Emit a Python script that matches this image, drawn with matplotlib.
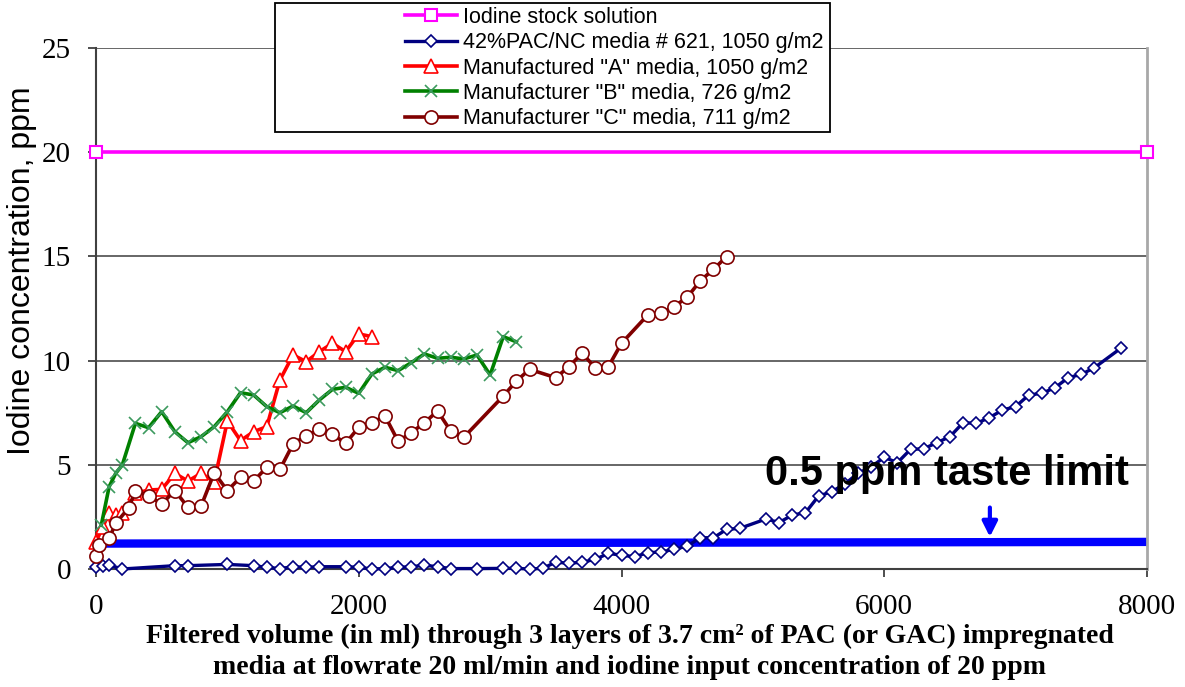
import matplotlib
matplotlib.use('Agg')
import matplotlib.pyplot as plt
from matplotlib.patches import Rectangle

# ---- data ---------------------------------------------------------------
stock_x = [0, 8000]
stock_y = [20, 20]

pac_x = [0, 50, 100, 200, 600, 700, 1000, 1200, 1300, 1400, 1500, 1600, 1700,
         1900, 2000, 2100, 2200, 2300, 2400, 2500, 2600, 2700, 2900,
         3100, 3200, 3300, 3400, 3500, 3600, 3700, 3800, 3900, 4000, 4100,
         4200, 4300, 4400, 4500, 4600, 4700, 4800, 4900,
         5100, 5200, 5300, 5400, 5500, 5600, 5700, 5800, 5900, 6000, 6100,
         6200, 6300, 6400, 6500, 6600, 6700, 6800, 6900, 7000, 7100, 7200,
         7300, 7400, 7500, 7600, 7800]
pac_y = [0.11, 0.14, 0.19, 0.0, 0.16, 0.16, 0.22, 0.16, 0.08, 0.02, 0.11, 0.08, 0.11,
         0.11, 0.08, 0.0, 0.02, 0.08, 0.11, 0.18, 0.11, 0.02, 0.02,
         0.03, 0.03, 0.0, 0.03, 0.33, 0.27, 0.33, 0.46, 0.75, 0.66, 0.59,
         0.78, 0.82, 0.94, 1.1, 1.5, 1.5, 1.9, 1.95,
         2.4, 2.23, 2.59, 2.7, 3.5, 3.71, 4.08, 4.59, 4.9, 5.36, 5.1,
         5.74, 5.77, 6.06, 6.35, 7.02, 6.99, 7.26, 7.63, 7.79, 8.35, 8.43,
         8.7, 9.18, 9.34, 9.66, 10.59]

a_x = [0, 50, 100, 150, 200, 300, 400, 500, 600, 700, 800, 900, 1000, 1100,
       1200, 1300, 1400, 1500, 1600, 1700, 1800, 1900, 2000, 2100]
a_y = [1.3, 2.0, 2.67, 2.59, 2.67, 3.63, 3.79, 3.82, 4.59, 4.22, 4.59, 4.19, 7.1, 6.16,
       6.59, 6.83, 9.07, 10.27, 9.95, 10.43, 10.83, 10.43, 11.28, 11.15]

b_x = [40, 100, 150, 200, 300, 400, 500, 600, 700, 800, 900, 1000, 1100, 1200,
       1300, 1400, 1500, 1600, 1700, 1800, 1900, 2000, 2100, 2200, 2300, 2400,
       2500, 2600, 2700, 2800, 2900, 3000, 3100, 3200]
b_y = [2.1, 3.95, 4.59, 4.99, 6.99, 6.78, 7.55, 6.59, 6.06, 6.35, 6.83, 7.55, 8.46, 8.35,
       7.79, 7.5, 7.82, 7.5, 8.11, 8.62, 8.72, 8.43, 9.36, 9.68, 9.52, 9.9,
       10.32, 10.11, 10.16, 10.08, 10.27, 9.31, 11.15, 10.9]

c_x = [0, 25, 100, 150, 250, 300, 400, 500, 600, 700, 800, 900, 1000, 1100, 1200,
       1300, 1400, 1500, 1600, 1700, 1800, 1900, 2000, 2100, 2200, 2300, 2400,
       2500, 2600, 2700, 2800, 3100, 3200, 3300, 3500, 3600, 3700, 3800, 3900,
       4000, 4200, 4300, 4400, 4500, 4600, 4700, 4800]
c_y = [0.62, 1.15, 1.47, 2.19, 2.94, 3.76, 3.52, 3.12, 3.76, 2.96, 3.02, 4.62, 3.76, 4.4, 4.22,
       4.88, 4.78, 6.0, 6.4, 6.7, 6.46, 6.03, 6.8, 7.02, 7.34, 6.13, 6.54,
       7.02, 7.58, 6.62, 6.32, 8.3, 9.02, 9.58, 9.18, 9.71, 10.35, 9.66, 9.71,
       10.83, 12.19, 12.27, 12.59, 13.04, 13.83, 14.38, 14.99]

taste_x = [50, 8000]
taste_y = [1.22, 1.3]

labels = ['Iodine stock solution',
          '42%PAC/NC media # 621, 1050 g/m2',
          'Manufactured "A" media, 1050 g/m2',
          'Manufacturer "B" media, 726 g/m2',
          'Manufacturer "C" media, 711 g/m2']

# ---- figure ---------------------------------------------------------------
W, H = 1185, 687
fig = plt.figure(figsize=(W / 100, H / 100), dpi=100)
ax = fig.add_axes([96 / W, 1 - 569 / H, (1147 - 96) / W, (569 - 48) / H])

grid_c = '#5a5a5a'
ax.set_xlim(0, 8000)
ax.set_ylim(0, 25)
ax.set_xticks(range(0, 8001, 2000))
ax.set_yticks(range(0, 26, 5))
for v in range(5, 26, 5):
    ax.axhline(v, color=grid_c, lw=1.3, zorder=1)

for s in ['left', 'bottom']:
    ax.spines[s].set_color('#404040')
    ax.spines[s].set_linewidth(1.5)
ax.spines['top'].set_visible(False)
ax.spines['right'].set_color('#a8a8a8')
ax.spines['right'].set_linewidth(2)

ax.tick_params(direction='out', length=6, width=1.3, color='#404040', pad=12,
               labelsize=21)
for t in ax.get_xticklabels() + ax.get_yticklabels():
    t.set_fontfamily('Liberation Serif')

# taste limit line
ax.plot(taste_x, taste_y, color='#0000ff', lw=6, solid_capstyle='butt', zorder=2)

lines = []
lines += ax.plot(stock_x, stock_y, color='#ff00ff', lw=2.6, marker='s', ms=8,
                 mfc='white', mec='#ff00ff', mew=1.5, clip_on=False, zorder=3)
lines += ax.plot(pac_x, pac_y, color='#000080', lw=2.4, marker='D', ms=6,
                 mfc='white', mec='#000080', mew=1.2, clip_on=False, zorder=3)
lines += ax.plot(a_x, a_y, color='#ff0000', lw=2.6, marker='^', ms=9.5,
                 mfc='white', mec='#ff0000', mew=1.2, clip_on=False, zorder=3)
lines += ax.plot(b_x, b_y, color='#008000', lw=2.6, marker='x', ms=9,
                 mec='#3c9a5f', mew=1.2, clip_on=False, zorder=3)
lines += ax.plot(c_x, c_y, color='#800000', lw=2.6, marker='o', ms=9.5,
                 mfc='white', mec='#800000', mew=1.2, clip_on=False, zorder=4)

ax.text(5091, 4.03, '0.5 ppm taste limit', fontsize=30, fontweight='bold',
        family='Liberation Sans', ha='left', va='baseline', zorder=5)
ax.annotate('', xy=(6804, 1.54), xytext=(6804, 2.95),
            arrowprops=dict(arrowstyle='-|>,head_width=0.45,head_length=0.9',
                            color='#0000ff', lw=3, shrinkA=0, shrinkB=0),
            zorder=5)

# legend box (Excel style, with empty space on the left)
box = Rectangle((275 / W, 1 - 132 / H), (830 - 275) / W, (132 - 3) / H,
                transform=fig.transFigure, facecolor='white', edgecolor='black',
                lw=1.3, zorder=10)
fig.patches.append(box)
leg = fig.legend(lines, labels, loc='upper left',
                 bbox_to_anchor=(405 / W, 1 - 7 / H), frameon=False,
                 prop={'family': 'Liberation Sans', 'size': 15.5},
                 handlelength=2.4, handletextpad=0.3, labelspacing=0.2,
                 borderpad=0, borderaxespad=0)
leg.set_zorder(11)

fig.text(22 / W, 1 - 271 / H, 'Iodine concentration, ppm', rotation=90,
         fontsize=23, family='Liberation Sans', ha='center', va='center')
fig.text(630 / W, 1 - 636 / H,
         'Filtered volume (in ml) through 3 layers of 3.7 cm\u00b2 of PAC (or GAC) impregnated',
         fontsize=20, fontweight='bold', family='Liberation Serif',
         ha='center', va='center')
fig.text(630 / W, 1 - 667 / H,
         'media at flowrate 20 ml/min and iodine input concentration of 20 ppm',
         fontsize=20, fontweight='bold', family='Liberation Serif',
         ha='center', va='center')

fig.savefig('out.png', dpi=100)
